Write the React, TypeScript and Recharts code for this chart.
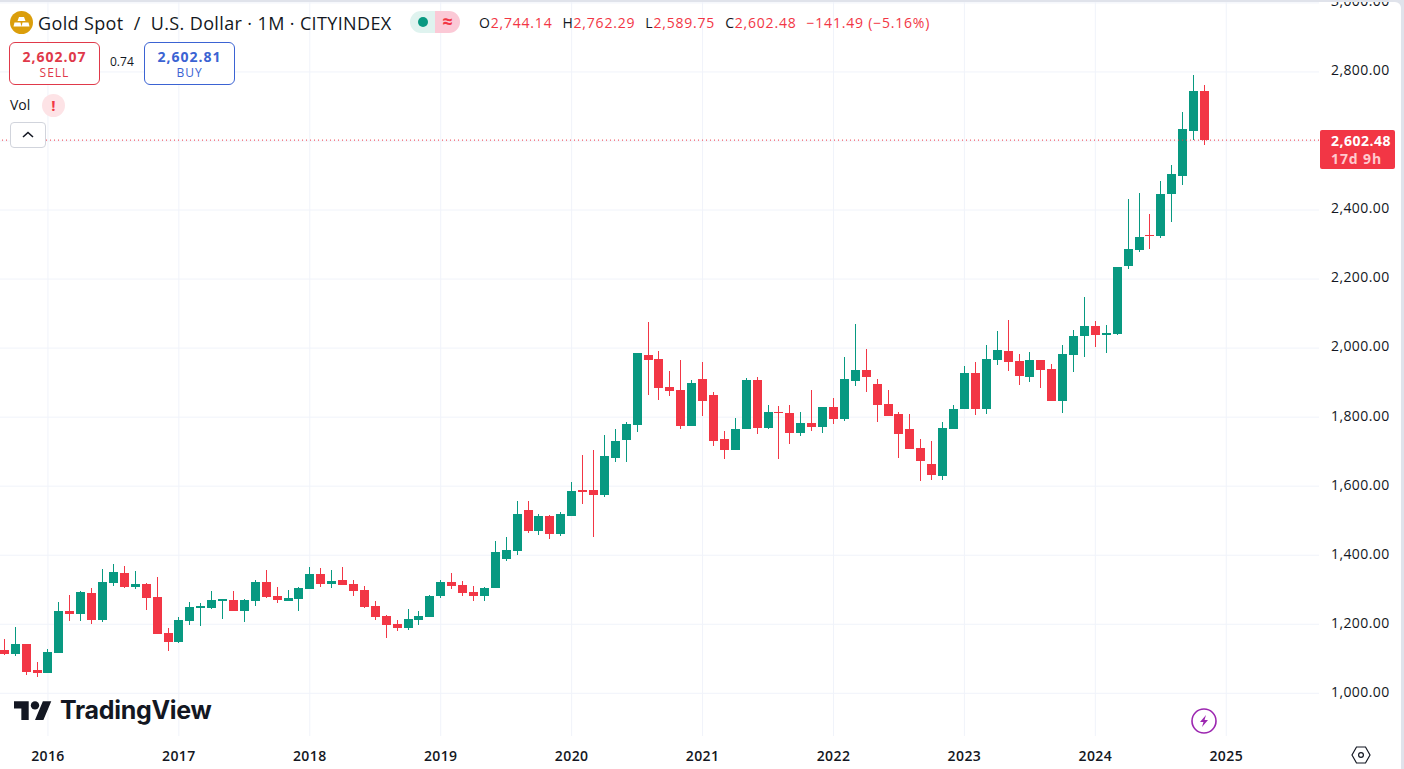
import { Bar, CartesianGrid, ComposedChart, ReferenceLine, XAxis, YAxis } from 'recharts';

const UP = '#089981';
const DOWN = '#F23645';
const FONT = '"Open Sans", sans-serif';

// monthly candles, Sep 2015 to Nov 2024
const opens = [
  1125.5, 1113.9, 1143, 1067.6,
  1058.9, 1116.8, 1238.5, 1229.8, 1290.6, 1212.4, 1319.6, 1348.5, 1308, 1316.7, 1279, 1174.7,
  1148.7, 1209.5, 1248, 1247.1, 1268, 1270.3, 1238.4, 1267.4, 1322.4, 1281.9, 1267.4, 1273.1,
  1302.1, 1345.6, 1316.6, 1328.2, 1316.6, 1299.2, 1252.9, 1223.9, 1200.7, 1189.2, 1212.3, 1221,
  1281.9, 1322.4, 1313.7, 1293.5, 1281.9, 1305, 1389, 1412.2, 1531, 1470.2, 1513.6, 1461.5,
  1513.6, 1588.9, 1588.9, 1574.4, 1681.6, 1733.8, 1777.2, 1980, 1968.4, 1887.3, 1878.6, 1774.3,
  1910.5, 1864.1, 1736.7, 1704.8, 1765.6, 1907.6, 1768.5, 1814.9, 1812, 1754, 1783, 1771.4,
  1829.4, 1794.6, 1904.7, 1936.6, 1896, 1838.1, 1809.1, 1765.6, 1710.6, 1664.3, 1629.5, 1765.6,
  1823.6, 1927.9, 1823.6, 1965.5, 1991.6, 1962.6, 1916.3, 1965.5, 1939.5, 1847, 1980.1, 2035.1,
  2064, 2038, 2040.9, 2237.9, 2284.2, 2327.7, 2324.8, 2446.5, 2498.6, 2629, 2744.14,
];
const highs = [
  1157, 1191, 1143, 1090.7,
  1127, 1264.5, 1284.8, 1296.4, 1305, 1360, 1374.6, 1368.8, 1354.3, 1319.6, 1337, 1189.2,
  1221.1, 1264.5, 1261.6, 1296.4, 1273.2, 1296.3, 1272, 1328.2, 1357.2, 1307.9, 1299.2, 1307.9,
  1365.9, 1363, 1357.2, 1365.9, 1328.2, 1310.8, 1267.4, 1226.8, 1212.3, 1244.2, 1238.4, 1284.7,
  1328.2, 1348.5, 1325.3, 1310.8, 1307.9, 1441.2, 1452.8, 1557, 1557, 1519.4, 1516.5, 1525.2,
  1612.1, 1690.3, 1704.8, 1748.2, 1765.6, 1785.9, 1985.8, 2075.6, 1991.6, 1933.7, 1965.5, 1907.6,
  1959.7, 1872.8, 1759.9, 1797.5, 1913.4, 1916.3, 1835.2, 1832.3, 1835.2, 1814.9, 1878.6, 1829.4,
  1855.5, 1974.2, 2069.8, 1997.4, 1910.5, 1878.6, 1814.9, 1809.1, 1736.7, 1730.9, 1786, 1835.2,
  1948.1, 1959.7, 2009, 2049.5, 2080, 1982.9, 1988.7, 1965.5, 1953.9, 2009, 2052.5, 2148.1,
  2078.6, 2067, 2235, 2432, 2449.4, 2388.5, 2484.1, 2530.5, 2684, 2790, 2762.29,
];
const lows = [
  1112, 1106, 1053, 1048,
  1058, 1116, 1209.5, 1209.5, 1200.8, 1206.6, 1310.9, 1305.1, 1302.2, 1241.4, 1171, 1122.6,
  1145.8, 1197.9, 1195, 1244.2, 1215.3, 1238, 1206.5, 1252.9, 1276, 1261.6, 1266, 1238.4,
  1301, 1307.9, 1305, 1313, 1281.9, 1247.1, 1212.3, 1160.2, 1180.5, 1183.4, 1197.8, 1220,
  1276, 1302.1, 1281.9, 1267.4, 1267.4, 1304, 1383.2, 1400.6, 1464.4, 1458.6, 1447, 1455.7,
  1513, 1548.4, 1452.8, 1568.6, 1670, 1670, 1757, 1864.1, 1849.7, 1861.2, 1765.6, 1773,
  1803.3, 1716.4, 1678.7, 1704, 1765, 1751.2, 1765.6, 1678.7, 1722.2, 1745.4, 1759.9, 1754,
  1780.1, 1788.8, 1890.2, 1872.8, 1786, 1802, 1681.6, 1707, 1615, 1617.9, 1617.9, 1765,
  1823, 1806.2, 1809.1, 1951, 1933.7, 1893.1, 1901.8, 1884.4, 1846, 1812, 1930.8, 1974.3,
  2003.2, 1985.9, 2038, 2229.2, 2278.4, 2287.1, 2319, 2365.4, 2472.5, 2603, 2589.75,
];
const closes = [
  1113.9, 1142.9, 1061.8, 1058.9,
  1119.7, 1238.5, 1229.8, 1293.5, 1212.4, 1322.5, 1351.4, 1308, 1316.7, 1276, 1171.8, 1148.7,
  1212.4, 1250, 1251.5, 1270.3, 1272, 1238.4, 1270.3, 1322.4, 1279, 1270.3, 1276, 1305,
  1345.6, 1316.6, 1325.3, 1313.7, 1296.3, 1250, 1221, 1197.8, 1189.2, 1215.2, 1223.9, 1281.9,
  1322.4, 1310.8, 1290.6, 1281.9, 1305, 1409.3, 1415.1, 1519.4, 1470.2, 1513.6, 1461.5, 1519.4,
  1586, 1583.1, 1574.4, 1687.4, 1730.9, 1780.1, 1985.8, 1965.5, 1884.4, 1875.7, 1774.3, 1898.9,
  1846.8, 1730.9, 1704.8, 1765.6, 1907.6, 1768.5, 1814.9, 1812, 1754, 1783, 1771.4, 1829.4,
  1794.6, 1910.5, 1936.6, 1916.3, 1835.2, 1803.3, 1751.2, 1707.7, 1673, 1632.4, 1768.5, 1823.6,
  1927.9, 1823.6, 1968.4, 1994.5, 1959.7, 1919.2, 1965.5, 1936.6, 1846.8, 1983, 2035.1, 2064,
  2038, 2043.8, 2235, 2287.1, 2321.9, 2324.8, 2446.5, 2504.4, 2634.8, 2744.14, 2602.48,
];

const priceTicks = [1000, 1200, 1400, 1600, 1800, 2000, 2200, 2400, 2600, 2800, 3000];
const yearTicks = ['2016-01', '2017-01', '2018-01', '2019-01', '2020-01', '2021-01', '2022-01', '2023-01', '2024-01', '2025-01'];
const lastPrice = 2602.48;

// slots run on past the last candle, the right side of the chart is left empty
const months: string[] = [];
for (let y = 2015; y <= 2025; y++) {
  for (let m = 1; m <= 12; m++) {
    if (y === 2015 && m < 9) continue;
    if (y === 2025 && m > 9) continue;
    months.push(`${y}-${String(m).padStart(2, '0')}`);
  }
}

const rows = months.map((month, i) => ({
  month,
  open: opens[i],
  high: highs[i],
  low: lows[i],
  close: closes[i],
}));

function Candle(props: any) {
  const { x, y, width, height, payload } = props;
  if (payload.high === undefined) return null;
  const perUnit = height / (payload.high - payload.low);
  const yOf = (v: number) => y + (payload.high - v) * perUnit;
  const top = Math.round(yOf(Math.max(payload.open, payload.close)));
  const bottom = Math.round(yOf(Math.min(payload.open, payload.close)));
  const color = payload.close >= payload.open ? UP : DOWN;
  const left = Math.round(x);
  return (
    <g shapeRendering="crispEdges">
      <rect x={left + 4} y={Math.round(y)} width={1} height={Math.round(height)} fill={color} />
      <rect x={left} y={top} width={9} height={Math.max(bottom - top, 1)} fill={color} />
    </g>
  );
}

const PriceTick = ({ x, y, payload }: any) => (
  <text x={x + 4} y={y - 1.5} dy="0.35em" fontFamily={FONT} fontSize={14} letterSpacing={0.4} fill="#131722">
    {payload.value.toLocaleString('en-US', { minimumFractionDigits: 2 })}
  </text>
);

const YearTick = ({ x, y, payload }: any) => (
  <text x={x} y={y + 12} dy="0.35em" textAnchor="middle" fontFamily={FONT} fontSize={14} fontWeight={600} letterSpacing={0.4} fill="#131722">
    {payload.value.slice(0, 4)}
  </text>
);

function Box({ left, color, price, label }: any) {
  return (
    <div style={{ position: 'absolute', left, top: 42, width: 91, height: 43, boxSizing: 'border-box', border: `1px solid ${color}`, borderRadius: 6, background: '#fff', textAlign: 'center', color }}>
      <div style={{ fontSize: 14, fontWeight: 700, lineHeight: '17px', marginTop: 5, letterSpacing: 1 }}>{price}</div>
      <div style={{ fontSize: 12, lineHeight: '15px', letterSpacing: 1 }}>{label}</div>
    </div>
  );
}

function Header() {
  const ohlc = [['O', '2,744.14'], ['H', '2,762.29'], ['L', '2,589.75'], ['C', '2,602.48']];
  return (
    <div style={{ position: 'absolute', left: 0, top: 0, fontFamily: FONT, color: '#131722' }}>
      <svg style={{ position: 'absolute', left: 10, top: 11 }} width={23} height={23}>
        <circle cx={11.5} cy={11.5} r={11.5} fill="#DB9E0B" />
        <path d="M9 6h5l1.5 4h-8zM4.5 11.5h6l1 4h-8zM12.5 11.5h6l1 4h-8z" fill="#fff" />
      </svg>
      <div style={{ position: 'absolute', left: 38, top: 11, fontSize: 18, lineHeight: '24px', whiteSpace: 'nowrap', letterSpacing: 0.37 }}>
        Gold Spot&nbsp; / &nbsp;U.S. Dollar · 1M · CITYINDEX
      </div>
      <div style={{ position: 'absolute', left: 410, top: 11, width: 25, height: 22, background: '#DFF3EF', borderRadius: '11px 0 0 11px' }}>
        <div style={{ position: 'absolute', left: 8, top: 6, width: 10, height: 10, borderRadius: 5, background: UP }} />
      </div>
      <div style={{ position: 'absolute', left: 435, top: 11, width: 25, height: 22, background: '#FBC9D6', borderRadius: '0 11px 11px 0', color: DOWN, fontSize: 18, fontWeight: 700, lineHeight: '21px', textAlign: 'center' }}>≈</div>
      <div style={{ position: 'absolute', left: 479, top: 13, fontSize: 14, lineHeight: '20px', whiteSpace: 'nowrap', color: DOWN, letterSpacing: 0.8 }}>
        {ohlc.map(([k, v]) => (
          <span key={k} style={{ marginRight: 10 }}><span style={{ color: '#131722' }}>{k}</span>{v}</span>
        ))}
        <span>−141.49 (−5.16%)</span>
      </div>
      <Box left={9} color="#E0394A" price="2,602.07" label="SELL" />
      <div style={{ position: 'absolute', left: 110, top: 54, fontSize: 12, lineHeight: '16px' }}>0.74</div>
      <Box left={144} color="#3B63D3" price="2,602.81" label="BUY" />
      <div style={{ position: 'absolute', left: 10, top: 95, fontSize: 14, lineHeight: '20px' }}>Vol</div>
      <div style={{ position: 'absolute', left: 42, top: 94, width: 23, height: 23, borderRadius: 12, background: '#FDE3E6', color: DOWN, fontWeight: 700, fontSize: 15, lineHeight: '23px', textAlign: 'center' }}>!</div>
      <div style={{ position: 'absolute', left: 10, top: 122, width: 36, height: 26, boxSizing: 'border-box', border: '1px solid #D1D4DC', borderRadius: 4, background: '#fff' }}>
        <svg width={34} height={24}>
          <path d="M12 14l5-4.5 5 4.5" fill="none" stroke="#131722" strokeWidth={1.6} />
        </svg>
      </div>
    </div>
  );
}

export default function App() {
  return (
    <div style={{ position: 'absolute', left: 0, top: 0, width: 1404, height: 769, background: '#E0E3EB', overflow: 'hidden' }}>
      <div style={{ position: 'absolute', left: 0, top: 2, width: 1401, height: 767, background: '#fff', borderTopRightRadius: 6, overflow: 'hidden' }}>
        <ComposedChart width={1401} height={767} data={rows} margin={{ top: 0, right: 0, bottom: 0, left: -1.15 }}>
          <CartesianGrid stroke="#F0F3FA" syncWithTicks />
          <XAxis dataKey="month" ticks={yearTicks} interval={0} height={33} axisLine={false} tickLine={false} tick={<YearTick />} />
          <YAxis orientation="right" width={82} domain={[876.3, 3002.6]} allowDataOverflow ticks={priceTicks} interval={0} axisLine={false} tickLine={false} tick={<PriceTick />} />
          <Bar dataKey={(d: any) => (d.high === undefined ? null : [d.low, d.high])} barSize={9} shape={<Candle />} isAnimationActive={false} />
          <ReferenceLine y={lastPrice} stroke={DOWN} strokeDasharray="1 3" />
        </ComposedChart>
      </div>
      <Header />
      <div style={{ position: 'absolute', left: 1320, top: 130, width: 75, height: 39, paddingLeft: 11, boxSizing: 'border-box', background: DOWN, borderRadius: 2, fontFamily: FONT, fontWeight: 700, fontSize: 14 }}>
        <div style={{ color: '#fff', lineHeight: '19px', marginTop: 1, letterSpacing: 0.5 }}>2,602.48</div>
        <div style={{ color: '#FFC9CE', lineHeight: '17px', letterSpacing: 0.9 }}>17d 9h</div>
      </div>
      <svg style={{ position: 'absolute', left: 14, top: 697 }} width={40} height={26}>
        <g transform="scale(1.05)" fill="#131722">
          <path d="M14 22H7V11H0V4h14v18zM28 22h-8l7.5-18h8L28 22z" />
          <circle cx={20} cy={8} r={4} />
        </g>
      </svg>
      <div style={{ position: 'absolute', left: 60, top: 693, fontFamily: 'Inter, sans-serif', fontWeight: 700, fontSize: 25, lineHeight: '34px', color: '#131722', letterSpacing: -0.3 }}>TradingView</div>
      <svg style={{ position: 'absolute', left: 1190, top: 707 }} width={28} height={28}>
        <circle cx={14} cy={14} r={12} fill="#fff" stroke="#9C27B0" strokeWidth={1.6} />
        <path d="M16 8l-6 7h3.5l-1.5 5 6-7h-3.5z" fill="#9C27B0" />
      </svg>
      <svg style={{ position: 'absolute', left: 1350, top: 745 }} width={22} height={20}>
        <path d="M6.5 2h9l4.5 8-4.5 8h-9L2 10z" fill="none" stroke="#131722" strokeWidth={1.2} />
        <circle cx={11} cy={10} r={2.4} fill="none" stroke="#131722" strokeWidth={1.2} />
      </svg>
    </div>
  );
}
